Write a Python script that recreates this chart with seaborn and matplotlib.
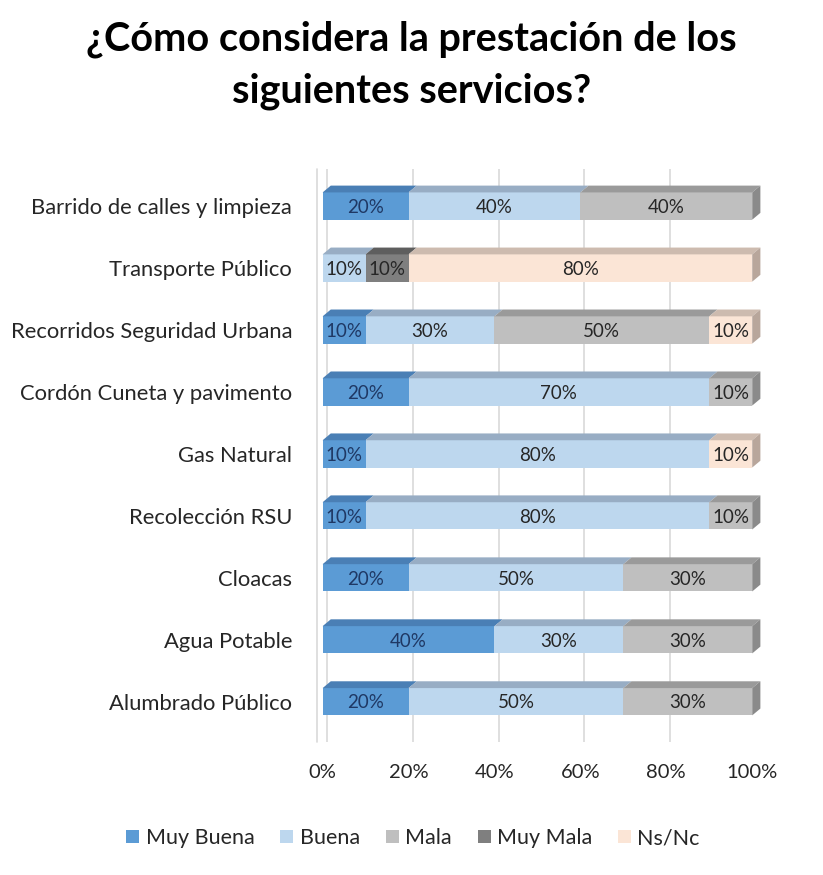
import numpy as np
import pandas as pd
import matplotlib
matplotlib.use("Agg")
import matplotlib.pyplot as plt
from matplotlib.patches import Polygon, Patch
import seaborn as sns

# datos (de arriba hacia abajo)
servicios = ["Barrido de calles y limpieza", "Transporte Público",
             "Recorridos Seguridad Urbana", "Cordón Cuneta y pavimento",
             "Gas Natural", "Recolección RSU", "Cloacas", "Agua Potable",
             "Alumbrado Público"]
niveles = ["Muy Buena", "Buena", "Mala", "Muy Mala", "Ns/Nc"]
muy_buena = [20, 0, 10, 20, 10, 10, 20, 40, 20]
buena = [40, 10, 30, 70, 80, 80, 50, 30, 50]
mala = [40, 0, 50, 10, 0, 10, 30, 30, 30]
muy_mala = [0, 10, 0, 0, 0, 0, 0, 0, 0]
ns_nc = [0, 80, 10, 0, 10, 0, 0, 0, 0]
ticks = [0, 20, 40, 60, 80, 100]

colores = {"Muy Buena": "#5B9BD5", "Buena": "#BDD7EE", "Mala": "#BFBFBF",
           "Muy Mala": "#7F7F7F", "Ns/Nc": "#FBE5D6"}
techo = {"Muy Buena": "#4A7FB5", "Buena": "#98ADC4", "Mala": "#9A9A9A",
         "Muy Mala": "#5E5E5E", "Ns/Nc": "#CDBBAF"}
lado = {"Muy Buena": "#3F6E9C", "Buena": "#8A9DB2", "Mala": "#8A8A8A",
        "Muy Mala": "#505050", "Ns/Nc": "#B8A69B"}
color_txt = {"Muy Buena": "#1F3864", "Buena": "#262626", "Mala": "#262626",
             "Muy Mala": "#262626", "Ns/Nc": "#262626"}

df = pd.DataFrame({"servicio": servicios, "Muy Buena": muy_buena, "Buena": buena,
                   "Mala": mala, "Muy Mala": muy_mala, "Ns/Nc": ns_nc})
acum = df[niveles].cumsum(axis=1)

sns.set_theme(style="white")
plt.rcParams["font.family"] = ["Lato", "DejaVu Sans"]

fig = plt.figure(figsize=(8.23, 8.75), dpi=100)
ax = fig.add_axes([0.392, 0.152, 0.522, 0.655])

ALTO = 0.44
DX, DY = 1.9, 0.11

for x in ticks:
    ax.axvline(x + DX * 0.5, color="#D9D9D9", lw=1.2, zorder=0)

# barras apiladas: se dibuja el acumulado de atrás hacia adelante
for nivel in reversed(niveles):
    sns.barplot(x=acum[nivel], y=df["servicio"], orient="h", color=colores[nivel],
                width=ALTO, ax=ax, saturation=1, linewidth=0, zorder=3)

# caras 3D y etiquetas
for i, serv in enumerate(servicios):
    izq = 0
    ult = None
    for nivel in niveles:
        v = df.loc[i, nivel]
        if v <= 0:
            continue
        der = izq + v
        yt = i - ALTO / 2
        ax.add_patch(Polygon([(izq, yt), (der, yt), (der + DX, yt - DY), (izq + DX, yt - DY)],
                             closed=True, facecolor=techo[nivel], edgecolor="none",
                             zorder=4, clip_on=False))
        ax.text(izq + v / 2, i + 0.02, f"{v}%", ha="center", va="center",
                fontsize=13.5, color=color_txt[nivel], zorder=6)
        izq = der
        ult = nivel
    yt, yb = i - ALTO / 2, i + ALTO / 2
    ax.add_patch(Polygon([(izq, yt), (izq + DX, yt - DY), (izq + DX, yb - DY), (izq, yb)],
                         closed=True, facecolor=lado[ult], edgecolor="none",
                         zorder=4, clip_on=False))

ax.set_xlim(0, 100)
ax.set_ylim(8.65, -0.6)
ax.set_xticks(ticks)
ax.set_xticklabels([f"{t}%" for t in ticks], fontsize=14.5, color="#262626")
ax.tick_params(axis="x", pad=16, length=0)
ax.tick_params(axis="y", pad=22, length=0, labelsize=15.8, labelcolor="#262626")
ax.set_xlabel("")
ax.set_ylabel("")
for s in ax.spines.values():
    s.set_visible(False)
ax.axvline(-1.3, color="#D9D9D9", lw=1.2, zorder=0, clip_on=False)

fig.text(0.5, 0.977, "¿Cómo considera la prestación de los\nsiguientes servicios?",
         ha="center", va="top", fontsize=28.5, fontweight="bold", color="black",
         linespacing=1.5)

manijas = [Patch(facecolor=colores[n], edgecolor="none") for n in niveles]
fig.legend(manijas, niveles, loc="center", bbox_to_anchor=(0.502, 0.042), ncol=5,
           frameon=False, fontsize=15.5, handlelength=0.6, handleheight=0.6,
           handletextpad=0.3, columnspacing=1.2, labelcolor="#262626")

fig.savefig("out.png", dpi=100)
